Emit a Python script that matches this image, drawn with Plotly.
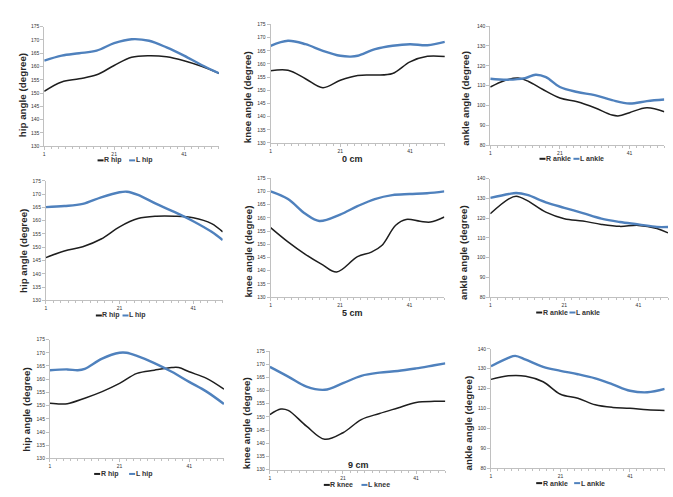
import plotly.graph_objects as go

# ---------------- data ----------------
# Row 1: 0 cm
hip0_x_R = [1, 6, 11, 16, 21, 26, 31, 36, 41, 46, 51]
hip0_R = [150.7, 154.2, 155.4, 156.9, 160.4, 163.5, 164.1, 163.7, 162.2, 160.1, 157.5]
hip0_x_L = [1, 6, 11, 16, 21, 26, 31, 36, 41, 46, 51]
hip0_L = [162.2, 164.1, 165.0, 166.0, 168.8, 170.3, 169.7, 167.2, 164.1, 160.6, 157.5]

knee0_x_R = [1, 6, 11, 16, 21, 26, 31, 36, 41, 46, 51]
knee0_R = [157.4, 157.6, 154.4, 151.0, 153.8, 155.6, 155.8, 156.4, 160.8, 162.9, 162.8]
knee0_x_L = [1, 6, 11, 16, 21, 24, 26, 31, 36, 41, 46, 51]
knee0_L = [166.9, 168.8, 167.5, 165.0, 163.1, 162.8, 163.1, 165.6, 166.9, 167.5, 167.1, 168.4]

ankle0_x_R = [1, 5, 9, 12, 16, 21, 26, 31, 36, 38, 41, 46, 51]
ankle0_R = [109.3, 112.5, 113.8, 112.1, 108.2, 103.8, 101.9, 98.9, 95.2, 94.8, 96.4, 98.9, 96.9]
ankle0_x_L = [1, 6, 11, 14, 17, 21, 26, 31, 36, 41, 46, 51]
ankle0_L = [113.5, 113.0, 113.8, 115.5, 114.3, 109.3, 106.8, 105.2, 102.7, 101.0, 102.2, 103.0]

# Row 2: 5 cm
hip5_x_R = [1, 6, 11, 16, 21, 26, 31, 36, 41, 46, 49]
hip5_R = [146.1, 148.6, 150.2, 153.1, 157.7, 160.8, 161.7, 161.7, 161.1, 158.9, 155.8]
hip5_x_L = [1, 6, 11, 16, 21, 23, 26, 31, 36, 41, 46, 49]
hip5_L = [165.1, 165.5, 166.3, 168.8, 170.7, 170.9, 169.7, 166.3, 163.2, 159.8, 155.8, 152.7]

knee5_x_R = [1, 6, 11, 16, 20, 26, 30, 33, 37, 40, 44, 47, 51]
knee5_R = [156.3, 150.9, 146.2, 142.2, 139.5, 145.3, 147.0, 149.5, 157.2, 159.4, 158.7, 158.4, 160.3]
knee5_x_L = [1, 6, 11, 15, 21, 26, 31, 36, 41, 46, 51]
knee5_L = [170.0, 167.1, 161.5, 158.8, 161.2, 164.4, 167.1, 168.6, 169.0, 169.3, 170.0]

ankle5_x_R = [1, 6, 8, 11, 16, 21, 26, 31, 36, 41, 46, 49]
ankle5_R = [122.2, 129.7, 131.0, 128.8, 123.0, 119.7, 118.5, 116.8, 115.8, 116.3, 114.7, 112.5]
ankle5_x_L = [1, 6, 8, 11, 16, 21, 26, 31, 36, 41, 46, 49]
ankle5_L = [130.2, 132.2, 132.7, 131.7, 128.0, 125.2, 122.5, 119.7, 118.0, 116.8, 115.5, 115.5]

# Row 3: 9 cm
hip9_x_R = [1, 4, 6, 11, 16, 21, 26, 31, 36, 38, 41, 46, 51]
hip9_R = [150.9, 150.6, 150.7, 152.8, 155.3, 158.4, 162.2, 163.4, 164.4, 164.4, 162.8, 160.3, 156.2]
hip9_x_L = [1, 6, 9, 11, 16, 21, 23, 26, 31, 36, 41, 46, 51]
hip9_L = [163.4, 163.7, 163.4, 163.9, 167.8, 170.0, 170.0, 168.8, 166.1, 162.8, 159.0, 155.3, 150.6]

knee9_x_R = [1, 4, 6, 11, 16, 21, 26, 31, 36, 41, 46, 49]
knee9_R = [150.9, 153.0, 152.5, 146.5, 141.5, 144.0, 149.0, 151.3, 153.4, 155.5, 155.9, 155.9]
knee9_x_L = [1, 6, 11, 16, 21, 26, 31, 36, 41, 46, 49]
knee9_L = [169.0, 165.3, 161.5, 160.3, 162.8, 165.6, 166.8, 167.4, 168.4, 169.6, 170.3]

ankle9_x_R = [1, 6, 11, 16, 21, 26, 31, 36, 41, 46, 51]
ankle9_R = [124.6, 126.4, 126.2, 123.4, 117.1, 115.1, 111.8, 110.5, 110.1, 109.3, 109.0]
ankle9_x_L = [1, 6, 8, 11, 16, 21, 26, 31, 36, 41, 46, 51]
ankle9_L = [131.2, 135.4, 136.4, 134.5, 130.9, 128.9, 127.2, 125.1, 122.1, 118.9, 118.1, 119.8]

n_points = [51, 51, 51, 49, 51, 49, 51, 49, 51]
y_titles = ["hip angle (degree)", "knee angle (degree)", "ankle angle (degree)"] * 3
series_names = [("R hip", "L hip"), ("R knee", "L knee"), ("R ankle", "L ankle")] * 3
cond_titles = ["0 cm", "5 cm", "9 cm"]
hip_knee_range = [130, 175]
ankle_range = [80, 140]

# ---------------- layout constants (pixels) ----------------
W, H = 673, 497
BLACK = "#1e1e1e"
BLUE = "#4f81bd"
AXC = "#c0c0c0"
FONT = "Liberation Sans, Arial, sans-serif"

# (x_left, x_right, y_top, y_bottom) of each plot area
boxes = [
    (43.3, 218.3, 24.0, 145.0),
    (270.0, 444.5, 21.7, 141.7),
    (490.0, 664.3, 23.3, 144.0),
    (45.0, 222.0, 180.0, 301.0),
    (270.0, 444.0, 177.3, 297.7),
    (490.0, 668.0, 177.7, 297.7),
    (49.0, 223.3, 340.7, 461.0),
    (269.3, 445.0, 352.3, 472.3),
    (490.7, 664.7, 350.0, 470.7),
]
ytitle_pos = [(21.7, 93.7), (247.7, 95.0), (465.0, 96.7),
              (23.3, 250.8), (248.3, 251.7), (463.3, 252.5),
              (26.0, 411.7), (246.7, 425.0), (468.3, 425.0)]
# legend: (start x of item 1, start x of item 2, y)
legend_pos = {0: (96.7, 128.3, 159.3), 2: (539.3, 573.3, 157.7), 3: (95.0, 121.7, 316.3),
              5: (536.0, 569.3, 313.3), 6: (93.3, 128.3, 476.7), 7: (323.3, 361.0, 487.8),
              8: (536.0, 574.0, 486.0)}
cond_pos = {1: (351.7, 157.7), 4: (351.7, 313.3), 7: (358.3, 467.7)}
KEY_LEN = 6.0

data = [
    (hip0_x_R, hip0_R, hip0_x_L, hip0_L),
    (knee0_x_R, knee0_R, knee0_x_L, knee0_L),
    (ankle0_x_R, ankle0_R, ankle0_x_L, ankle0_L),
    (hip5_x_R, hip5_R, hip5_x_L, hip5_L),
    (knee5_x_R, knee5_R, knee5_x_L, knee5_L),
    (ankle5_x_R, ankle5_R, ankle5_x_L, ankle5_L),
    (hip9_x_R, hip9_R, hip9_x_L, hip9_L),
    (knee9_x_R, knee9_R, knee9_x_L, knee9_L),
    (ankle9_x_R, ankle9_R, ankle9_x_L, ankle9_L),
]

fig = go.Figure()
layout = dict(
    width=W, height=H,
    margin=dict(l=0, r=0, t=0, b=0),
    paper_bgcolor="white", plot_bgcolor="white",
    showlegend=False,
    font=dict(family=FONT, color="#333333"),
)
annotations = []
shapes = []

for i, (xr, yr, xl, yl) in enumerate(data):
    k = "" if i == 0 else str(i + 1)
    xa, ya = "x" + k, "y" + k
    fig.add_trace(go.Scatter(x=xr, y=yr, mode="lines", name=series_names[i][0],
                             line=dict(color=BLACK, width=1.5, shape="spline", smoothing=1.0),
                             xaxis=xa, yaxis=ya))
    fig.add_trace(go.Scatter(x=xl, y=yl, mode="lines", name=series_names[i][1],
                             line=dict(color=BLUE, width=2.4, shape="spline", smoothing=1.0),
                             xaxis=xa, yaxis=ya))
    x0, x1, yt, yb = boxes[i]
    is_ankle = (i % 3 == 2)
    layout["xaxis" + k] = dict(
        domain=[x0 / W, x1 / W], range=[1, n_points[i]], anchor=ya,
        showline=True, linecolor=AXC, linewidth=1, showgrid=False, zeroline=False,
        tickmode="linear", tick0=1, dtick=20, ticks="outside", ticklen=3,
        tickcolor=AXC, tickwidth=1,
        tickfont=dict(size=5, color="#333333", family=FONT),
        minor=dict(tickmode="linear", tick0=1, dtick=2, ticks="outside", ticklen=2,
                   tickcolor=AXC, tickwidth=1, showgrid=False),
    )
    layout["yaxis" + k] = dict(
        domain=[1 - yb / H, 1 - yt / H],
        range=ankle_range if is_ankle else hip_knee_range, anchor=xa,
        showline=True, linecolor=AXC, linewidth=1, showgrid=False, zeroline=False,
        tickmode="linear", dtick=10 if is_ankle else 5, ticks="outside", ticklen=3,
        tickcolor=AXC, tickwidth=1,
        tickfont=dict(size=5, color="#333333", family=FONT),
    )
    tx, ty = ytitle_pos[i]
    annotations.append(dict(
        x=tx / W, y=1 - ty / H, xref="paper", yref="paper", showarrow=False,
        text="<b>" + y_titles[i] + "</b>", textangle=-90,
        font=dict(size=9.8, color="#262626", family=FONT),
        xanchor="center", yanchor="middle"))
    if i in legend_pos:
        s1, s2, ly = legend_pos[i]
        for sx, col, nm in ((s1, BLACK, series_names[i][0]), (s2, BLUE, series_names[i][1])):
            shapes.append(dict(type="line", xref="paper", yref="paper",
                               x0=sx / W, x1=(sx + KEY_LEN) / W,
                               y0=1 - ly / H, y1=1 - ly / H,
                               line=dict(color=col, width=2)))
            annotations.append(dict(
                x=(sx + KEY_LEN) / W, y=1 - ly / H, xref="paper", yref="paper",
                showarrow=False, text="<b>" + nm + "</b>",
                font=dict(size=7, color="#333333", family=FONT),
                xanchor="left", yanchor="middle", xshift=-1.5))
    if i in cond_pos:
        cx, cy = cond_pos[i]
        annotations.append(dict(
            x=cx / W, y=1 - cy / H, xref="paper", yref="paper", showarrow=False,
            text="<b>" + cond_titles[i // 3] + "</b>",
            font=dict(size=9, color="#262626", family=FONT),
            xanchor="center", yanchor="middle"))

layout["annotations"] = annotations
layout["shapes"] = shapes
fig.update_layout(**layout)
fig.write_html("out.html")
